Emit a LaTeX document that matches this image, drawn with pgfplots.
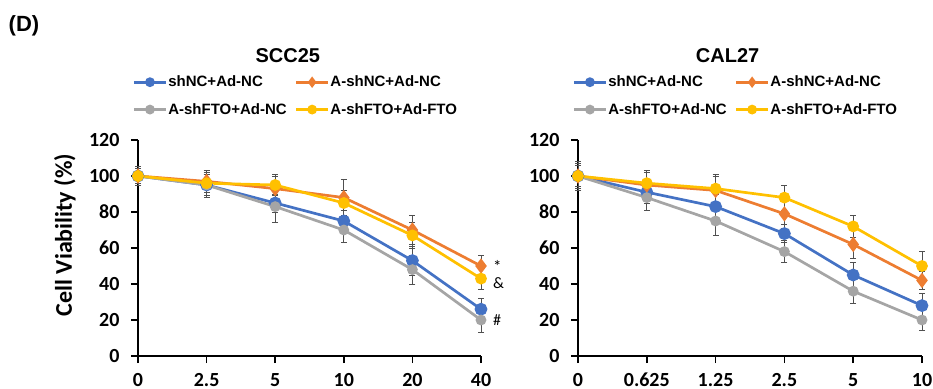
\documentclass[border=0pt]{standalone}
\usepackage{pgfplots}
\pgfplotsset{compat=1.18}
\usepackage{fontspec}
\setmainfont{Liberation Sans}
\newfontfamily\carlito{Carlito}
\definecolor{cblue}{HTML}{4472C4}
\definecolor{corange}{HTML}{ED7D31}
\definecolor{cgray}{HTML}{A5A5A5}
\definecolor{cyellow}{HTML}{FFC000}
\definecolor{errgray}{HTML}{505050}
\pgfplotsset{
  myaxis/.style={
    scale only axis, width=343pt, height=216pt,
    xmin=0, xmax=5, ymin=0, ymax=120,
    axis x line*=bottom, axis y line*=left,
    axis line style={line width=1.5pt, black},
    xtick={0,...,5}, ytick={0,20,...,120},
    tick align=outside, major tick length=7pt,
    tick style={line width=1.5pt, black},
    /pgf/number format/assume math mode=true,
    ticklabel style={font=\carlito\bfseries\fontsize{20}{20}\selectfont},
    yticklabel style={xshift=-8pt},
    xticklabel style={inner sep=1pt, text depth=0pt, yshift=-9pt},
    clip=false,
    legend columns=2,
    legend cell align=left,
    legend style={draw=none, fill=none, font=\bfseries\fontsize{15}{15}\selectfont,
      nodes={font=\bfseries\fontsize{15}{15}\selectfont, inner sep=1pt},
      at={(axis description cs:-0.025,1.311)}, anchor=north west,
      /tikz/every even column/.append style={column sep=7pt}, row sep=13pt},
    legend image code/.code={\draw[mark repeat=2,mark phase=2,mark size=3.5pt] plot coordinates {(0pt,0pt) (16pt,0pt) (32pt,0pt)};},
    title style={anchor=center, font=\bfseries\fontsize{20}{20}\selectfont},
  },
  eb/.style={
    error bars/y dir=both, error bars/y explicit,
    error bars/error bar style={line width=1pt, color=errgray},
    error bars/error mark options={rotate=90, mark size=3pt, line width=1pt, errgray},
  },
  sblue/.style={eb, color=cblue, line width=2.7pt, mark=*, mark size=5pt, mark options={fill=cblue, draw=cblue}},
  sorange/.style={eb, color=corange, line width=2.7pt, mark=diamond*, mark size=5.5pt, mark options={fill=corange, draw=corange}},
  sgray/.style={eb, color=cgray, line width=2.7pt, mark=*, mark size=4pt, mark options={fill=cgray, draw=cgray}},
  syellow/.style={eb, color=cyellow, line width=2.7pt, mark=*, mark size=4.5pt, mark options={fill=cyellow, draw=cyellow}},
}
\begin{document}
\begin{tikzpicture}
\useasboundingbox (0pt,0pt) rectangle (933pt,388pt);
\node[font=\bfseries\fontsize{22}{22}\selectfont] at (24pt,362.5pt) {(D)};
\begin{axis}[myaxis, at={(138pt,32pt)}, anchor=origin,
  xticklabels={0,2.5,5,10,20,40},
  title={SCC25}, title style={at={(axis description cs:0.437,1.365)}},
  ylabel={Cell Viability (\%)},
  ylabel style={at={(axis description cs:-0.213,0.56)}, anchor=center, font=\carlito\bfseries\fontsize{24}{24}\selectfont},
]
\addplot[sblue] coordinates {(0,100) +- (0,5) (1,95) +- (0,6) (2,85) +- (0,5) (3,75) +- (0,6) (4,53) +- (0,8) (5,26) +- (0,6)};
\addlegendentry{shNC+Ad-NC}
\addplot[sorange] coordinates {(0,100) +- (0,5) (1,97) +- (0,6) (2,93) +- (0,7) (3,88) +- (0,10) (4,70) +- (0,8) (5,50) +- (0,6)};
\addlegendentry{A-shNC+Ad-NC}
\addplot[sgray] coordinates {(0,100) +- (0,4) (1,95) +- (0,7) (2,83) +- (0,9) (3,70) +- (0,7) (4,48) +- (0,8) (5,20) +- (0,7)};
\addlegendentry{A-shFTO+Ad-NC}
\addplot[syellow] coordinates {(0,100) +- (0,4) (1,96) +- (0,5) (2,95) +- (0,6) (3,85) +- (0,7) (4,67) +- (0,7) (5,43) +- (0,6)};
\addlegendentry{A-shFTO+Ad-FTO}
\node[font=\carlito\fontsize{17}{17}\selectfont, anchor=west, inner sep=1pt] at (axis cs:5,50) [xshift=11pt] {*};
\node[font=\carlito\fontsize{16}{16}\selectfont, anchor=west, inner sep=1pt] at (axis cs:5,40.5) [xshift=11pt] {\&};
\node[font=\carlito\fontsize{16}{16}\selectfont, anchor=west, inner sep=1pt] at (axis cs:5,20) [xshift=11pt] {\#};
\end{axis}
\begin{axis}[myaxis, at={(578pt,32pt)}, anchor=origin, width=344pt,
  xticklabels={0,0.625,1.25,2.5,5,10},
  title={CAL27}, title style={at={(axis description cs:0.435,1.365)}},
]
\addplot[sblue] coordinates {(0,100) +- (0,8) (1,91) +- (0,6) (2,83) +- (0,7) (3,68) +- (0,5) (4,45) +- (0,7) (5,28) +- (0,7)};
\addlegendentry{shNC+Ad-NC}
\addplot[sorange] coordinates {(0,100) +- (0,7) (1,95) +- (0,7) (2,92) +- (0,8) (3,79) +- (0,8) (4,62) +- (0,8) (5,42) +- (0,5)};
\addlegendentry{A-shNC+Ad-NC}
\addplot[sgray] coordinates {(0,100) +- (0,8) (1,88) +- (0,7) (2,75) +- (0,8) (3,58) +- (0,6) (4,36) +- (0,7) (5,20) +- (0,6)};
\addlegendentry{A-shFTO+Ad-NC}
\addplot[syellow] coordinates {(0,100) +- (0,6) (1,96) +- (0,7) (2,93) +- (0,8) (3,88) +- (0,7) (4,72) +- (0,6) (5,50) +- (0,8)};
\addlegendentry{A-shFTO+Ad-FTO}
\end{axis}
\end{tikzpicture}
\end{document}
